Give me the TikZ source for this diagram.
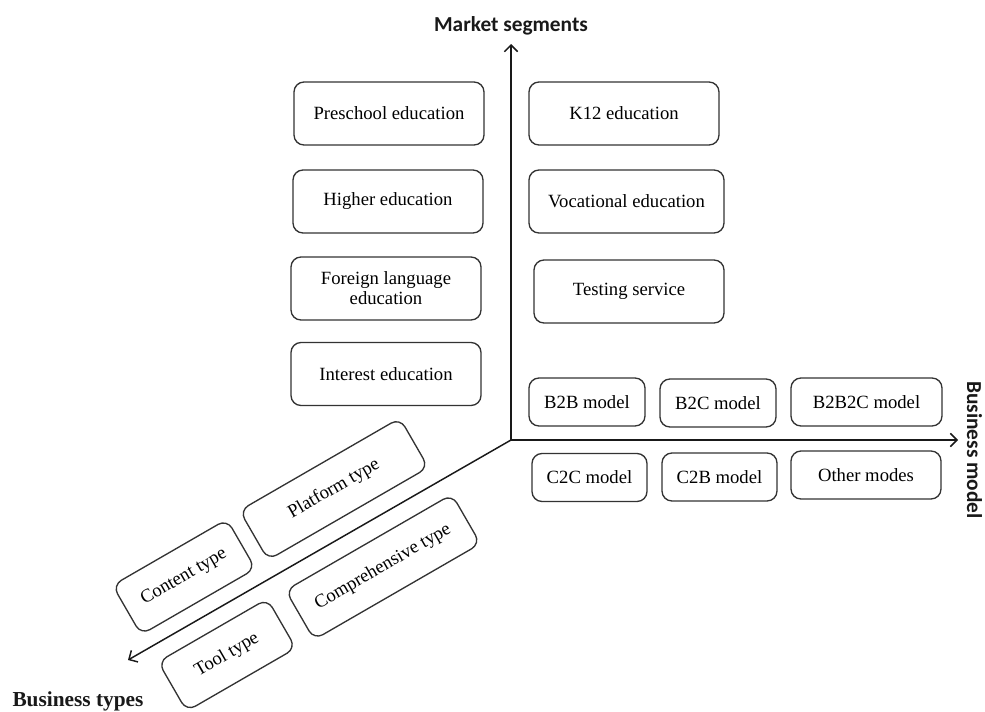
\documentclass[tikz,border=0pt]{standalone}
\usepackage{fontspec}
\setmainfont{Liberation Serif}
\newfontfamily\carlito{Carlito}
\usetikzlibrary{arrows.meta}
\begin{document}
\begin{tikzpicture}[x=0.75pt,y=-0.75pt,
  box/.style={draw=black!80, line width=1pt, rounded corners=7.5pt, align=center,
    font=\fontsize{14}{15}\selectfont, inner sep=0pt, text=black,
    minimum height=47.25pt},
  mbox/.style={box, minimum height=36pt},
  tbox/.style={box, minimum height=42.75pt, rotate=30},
  axis/.style={line width=1.1pt, draw=black!90, -{Straight Barb[length=5pt,width=10pt,line width=1.1pt]}},
  lab/.style={font=\fontsize{15}{17}\selectfont\bfseries, text=black!90}]
\useasboundingbox (0,0) rectangle (985,711);

% axes
\coordinate (O) at (511,440);
\coordinate (up) at (511,44);
\coordinate (right) at (958,440);
\coordinate (dl) at (128,660);
\draw[axis] (O) -- (up);
\draw[axis] (O) -- (right);
\draw[axis] (O) -- (dl);

% axis labels
\node[lab, font=\carlito\fontsize{16}{18}\selectfont\bfseries] (ms) at (511,26) {Market segments};
\node[lab, font=\fontsize{16}{18}\selectfont\bfseries] (bt) at (78,701) {Business types};
\node[lab, font=\carlito\fontsize{16}{18}\selectfont\bfseries, rotate=-90, anchor=base] (bm) at (967,450) {Business model};

% market segments
\node[box, minimum width=142.5pt] (pre) at (389,113.5) {Preschool education};
\node[box, minimum width=142.5pt] (hig) at (388,201.5) {Higher education};
\node[box, minimum width=142.5pt] (for) at (386,288.5) {Foreign language\\education};
\node[box, minimum width=142.5pt] (int) at (386,374) {Interest education};
\node[box, minimum width=142.5pt] (k12) at (624,113.5) {K12 education};
\node[box, minimum width=146.25pt] (voc) at (626.5,201.5) {Vocational education};
\node[box, minimum width=142.5pt] (tes) at (629,291.5) {Testing service};

% business models
\node[mbox, minimum width=87pt] (b2b) at (587,402) {B2B model};
\node[mbox, minimum width=87pt] (b2c) at (718,403) {B2C model};
\node[mbox, minimum width=113.25pt] (b2b2c) at (866.5,402) {B2B2C model};
\node[mbox, minimum width=86.25pt] (c2c) at (589.5,477.5) {C2C model};
\node[mbox, minimum width=86.25pt] (c2b) at (719.5,477) {C2B model};
\node[mbox, minimum width=112.5pt] (oth) at (866,475) {Other modes};

% business types
\node[tbox, minimum width=138.75pt] (pla) at (334,489) {Platform type};
\node[tbox, minimum width=99pt] (con) at (184,577) {Content type};
\node[tbox, minimum width=144pt] (com) at (383,567) {Comprehensive type};
\node[tbox, minimum width=94.5pt] (too) at (227,655) {Tool type};
\end{tikzpicture}
\end{document}
